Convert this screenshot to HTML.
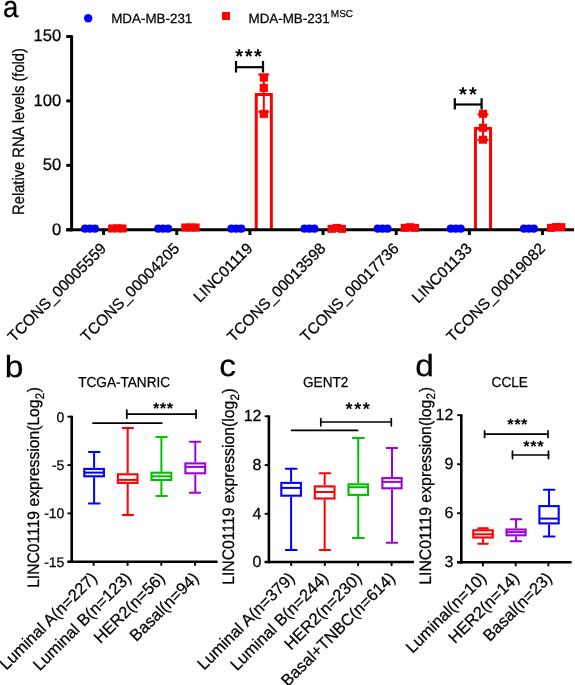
<!DOCTYPE html>
<html><head><meta charset="utf-8"><style>
html,body{margin:0;padding:0;background:#fff;width:575px;height:685px;overflow:hidden;}
svg{display:block;}
text{font-family:"Liberation Sans",sans-serif;fill:#000;stroke:#000;stroke-width:0.25px;}
body{-webkit-font-smoothing:antialiased;}
svg{will-change:transform;}
text{text-rendering:geometricPrecision;}
</style></head><body>
<svg width="575" height="685" viewBox="0 0 575 685">
<rect width="575" height="685" fill="#fff"/>
<text transform="translate(3.0 16.9) scale(0.92 1)" font-size="30" text-anchor="start" >a</text>
<text transform="translate(4.8 377.2) scale(1.1 1)" font-size="30.5" text-anchor="start" >b</text>
<text transform="translate(219.2 375.9) scale(1.1 1)" font-size="30.5" text-anchor="start" >c</text>
<text transform="translate(415.2 375.8) scale(1.1 1)" font-size="30.5" text-anchor="start" >d</text>
<circle cx="88.2" cy="18.3" r="4.2" fill="#0000ff"/>
<text x="111.2" y="23.3" font-size="13.4" text-anchor="start" >MDA-MB-231</text>
<rect x="222" y="12" width="8" height="8" fill="#ff0000"/>
<text x="248.5" y="23.3" font-size="13.4" text-anchor="start" >MDA-MB-231<tspan font-size="10" dx="1.2" dy="-6.2">MSC</tspan></text>
<path d="M256.25 229.8 V94.5 H271.35 V229.8" fill="none" stroke="#ff0000" stroke-width="3" stroke-linejoin="miter"/>
<line x1="263.8" y1="74.5" x2="263.8" y2="111.8" stroke="#ff0000" stroke-width="2" stroke-linecap="butt"/>
<line x1="258.3" y1="74.5" x2="269.3" y2="74.5" stroke="#ff0000" stroke-width="2" stroke-linecap="butt"/>
<line x1="258.3" y1="111.8" x2="269.3" y2="111.8" stroke="#ff0000" stroke-width="2" stroke-linecap="butt"/>
<path d="M475.45 229.8 V128.5 H490.55 V229.8" fill="none" stroke="#ff0000" stroke-width="3" stroke-linejoin="miter"/>
<line x1="483.0" y1="114.4" x2="483.0" y2="139.9" stroke="#ff0000" stroke-width="2" stroke-linecap="butt"/>
<line x1="477.5" y1="114.4" x2="488.5" y2="114.4" stroke="#ff0000" stroke-width="2" stroke-linecap="butt"/>
<line x1="477.5" y1="139.9" x2="488.5" y2="139.9" stroke="#ff0000" stroke-width="2" stroke-linecap="butt"/>
<line x1="71.6" y1="35.3" x2="71.6" y2="231.3" stroke="#000" stroke-width="3" stroke-linecap="butt"/>
<line x1="66.3" y1="229.8" x2="71.6" y2="229.8" stroke="#000" stroke-width="3" stroke-linecap="butt"/>
<text x="61.3" y="234.60000000000002" font-size="16.6" text-anchor="end" >0</text>
<line x1="66.3" y1="165.36666666666667" x2="71.6" y2="165.36666666666667" stroke="#000" stroke-width="3" stroke-linecap="butt"/>
<text x="61.3" y="170.16666666666669" font-size="16.6" text-anchor="end" >50</text>
<line x1="66.3" y1="100.93333333333334" x2="71.6" y2="100.93333333333334" stroke="#000" stroke-width="3" stroke-linecap="butt"/>
<text x="61.3" y="105.73333333333333" font-size="16.6" text-anchor="end" >100</text>
<line x1="66.3" y1="36.49999999999997" x2="71.6" y2="36.49999999999997" stroke="#000" stroke-width="3" stroke-linecap="butt"/>
<text x="61.3" y="41.29999999999997" font-size="16.6" text-anchor="end" >150</text>
<line x1="66.3" y1="229.8" x2="574" y2="229.8" stroke="#000" stroke-width="3" stroke-linecap="butt"/>
<line x1="103.6" y1="229.8" x2="103.6" y2="235" stroke="#000" stroke-width="3" stroke-linecap="butt"/>
<line x1="176.75" y1="229.8" x2="176.75" y2="235" stroke="#000" stroke-width="3" stroke-linecap="butt"/>
<line x1="249.9" y1="229.8" x2="249.9" y2="235" stroke="#000" stroke-width="3" stroke-linecap="butt"/>
<line x1="323.05" y1="229.8" x2="323.05" y2="235" stroke="#000" stroke-width="3" stroke-linecap="butt"/>
<line x1="396.20000000000005" y1="229.8" x2="396.20000000000005" y2="235" stroke="#000" stroke-width="3" stroke-linecap="butt"/>
<line x1="469.35" y1="229.8" x2="469.35" y2="235" stroke="#000" stroke-width="3" stroke-linecap="butt"/>
<line x1="542.5" y1="229.8" x2="542.5" y2="235" stroke="#000" stroke-width="3" stroke-linecap="butt"/>
<rect x="259.7" y="73.6" width="8.2" height="8" fill="#ff0000"/>
<rect x="259.7" y="83.9" width="8.2" height="8" fill="#ff0000"/>
<rect x="259.7" y="109.9" width="8.2" height="8" fill="#ff0000"/>
<rect x="478.9" y="109.8" width="8.2" height="8" fill="#ff0000"/>
<rect x="478.9" y="123.8" width="8.2" height="8" fill="#ff0000"/>
<rect x="478.9" y="135.7" width="8.2" height="8" fill="#ff0000"/>
<text transform="translate(24.1 131.5) rotate(-90) scale(0.892 1)" font-size="16.5" text-anchor="middle" >Relative RNA levels (fold)</text>
<text transform="translate(107.19999999999999 249.4) rotate(-45)" font-size="15.5" text-anchor="end" >TCONS_00005559</text>
<text transform="translate(180.35 249.4) rotate(-45)" font-size="15.5" text-anchor="end" >TCONS_00004205</text>
<text transform="translate(253.5 249.4) rotate(-45)" font-size="15.5" text-anchor="end" >LINC01119</text>
<text transform="translate(326.65000000000003 249.4) rotate(-45)" font-size="15.5" text-anchor="end" >TCONS_00013598</text>
<text transform="translate(399.80000000000007 249.4) rotate(-45)" font-size="15.5" text-anchor="end" >TCONS_00017736</text>
<text transform="translate(472.95000000000005 249.4) rotate(-45)" font-size="15.5" text-anchor="end" >LINC01133</text>
<text transform="translate(546.1 249.4) rotate(-45)" font-size="15.5" text-anchor="end" >TCONS_00019082</text>
<circle cx="85.1" cy="228.7" r="4.1" fill="#0000ff"/>
<circle cx="90.0" cy="228.7" r="4.1" fill="#0000ff"/>
<circle cx="94.9" cy="228.7" r="4.1" fill="#0000ff"/>
<circle cx="158.25" cy="228.7" r="4.1" fill="#0000ff"/>
<circle cx="163.15" cy="228.7" r="4.1" fill="#0000ff"/>
<circle cx="168.05" cy="228.7" r="4.1" fill="#0000ff"/>
<circle cx="231.4" cy="228.7" r="4.1" fill="#0000ff"/>
<circle cx="236.3" cy="228.7" r="4.1" fill="#0000ff"/>
<circle cx="241.20000000000002" cy="228.7" r="4.1" fill="#0000ff"/>
<circle cx="304.55" cy="228.7" r="4.1" fill="#0000ff"/>
<circle cx="309.45" cy="228.7" r="4.1" fill="#0000ff"/>
<circle cx="314.34999999999997" cy="228.7" r="4.1" fill="#0000ff"/>
<circle cx="377.70000000000005" cy="228.7" r="4.1" fill="#0000ff"/>
<circle cx="382.6" cy="228.7" r="4.1" fill="#0000ff"/>
<circle cx="387.5" cy="228.7" r="4.1" fill="#0000ff"/>
<circle cx="450.85" cy="228.7" r="4.1" fill="#0000ff"/>
<circle cx="455.75" cy="228.7" r="4.1" fill="#0000ff"/>
<circle cx="460.65" cy="228.7" r="4.1" fill="#0000ff"/>
<circle cx="524.0" cy="228.7" r="4.1" fill="#0000ff"/>
<circle cx="528.9" cy="228.7" r="4.1" fill="#0000ff"/>
<circle cx="533.8" cy="228.7" r="4.1" fill="#0000ff"/>
<rect x="108.1" y="224.5" width="8.2" height="8" fill="#ff0000"/>
<rect x="113.2" y="224.3" width="8.2" height="8" fill="#ff0000"/>
<rect x="118.3" y="224.5" width="8.2" height="8" fill="#ff0000"/>
<rect x="181.25" y="223.5" width="8.2" height="8" fill="#ff0000"/>
<rect x="186.35" y="223.4" width="8.2" height="8" fill="#ff0000"/>
<rect x="191.45" y="223.5" width="8.2" height="8" fill="#ff0000"/>
<rect x="327.55" y="224.85" width="8.2" height="8" fill="#ff0000"/>
<rect x="332.65" y="223.9" width="8.2" height="8" fill="#ff0000"/>
<rect x="337.75" y="224.85" width="8.2" height="8" fill="#ff0000"/>
<rect x="400.7" y="223.85" width="8.2" height="8" fill="#ff0000"/>
<rect x="405.8" y="223.2" width="8.2" height="8" fill="#ff0000"/>
<rect x="410.9" y="223.85" width="8.2" height="8" fill="#ff0000"/>
<rect x="547.0" y="223.85" width="8.2" height="8" fill="#ff0000"/>
<rect x="552.1" y="223.05" width="8.2" height="8" fill="#ff0000"/>
<rect x="557.2" y="223.15" width="8.2" height="8" fill="#ff0000"/>
<line x1="236" y1="67.2" x2="263" y2="67.2" stroke="#000" stroke-width="2.2" stroke-linecap="butt"/>
<line x1="236" y1="61" x2="236" y2="72.5" stroke="#000" stroke-width="2.2" stroke-linecap="butt"/>
<line x1="263" y1="61" x2="263" y2="72.5" stroke="#000" stroke-width="2.2" stroke-linecap="butt"/>
<text x="239.1" y="62.60" font-size="20" font-weight="bold" text-anchor="middle" style="stroke:none">*</text>
<text x="248.6" y="62.60" font-size="20" font-weight="bold" text-anchor="middle" style="stroke:none">*</text>
<text x="258.0" y="62.60" font-size="20" font-weight="bold" text-anchor="middle" style="stroke:none">*</text>
<line x1="454.8" y1="104.5" x2="481.6" y2="104.5" stroke="#000" stroke-width="2.2" stroke-linecap="butt"/>
<line x1="454.8" y1="98.2" x2="454.8" y2="109.5" stroke="#000" stroke-width="2.2" stroke-linecap="butt"/>
<line x1="481.6" y1="98.2" x2="481.6" y2="109.5" stroke="#000" stroke-width="2.2" stroke-linecap="butt"/>
<text x="462.9" y="101.30" font-size="20" font-weight="bold" text-anchor="middle" style="stroke:none">*</text>
<text x="472.8" y="101.30" font-size="20" font-weight="bold" text-anchor="middle" style="stroke:none">*</text>
<line x1="71.7" y1="415.7" x2="71.7" y2="563.0" stroke="#000" stroke-width="2.6" stroke-linecap="butt"/>
<line x1="67.5" y1="416.7" x2="71.7" y2="416.7" stroke="#000" stroke-width="1.9" stroke-linecap="butt"/>
<text x="64.4" y="421.7" font-size="14" text-anchor="end" >0</text>
<line x1="67.5" y1="465.1" x2="71.7" y2="465.1" stroke="#000" stroke-width="1.9" stroke-linecap="butt"/>
<text x="64.4" y="470.1" font-size="14" text-anchor="end" >-5</text>
<line x1="67.5" y1="513.4" x2="71.7" y2="513.4" stroke="#000" stroke-width="1.9" stroke-linecap="butt"/>
<text x="64.4" y="518.4" font-size="14" text-anchor="end" >-10</text>
<line x1="67.5" y1="561.8" x2="71.7" y2="561.8" stroke="#000" stroke-width="1.9" stroke-linecap="butt"/>
<text x="64.4" y="566.8" font-size="14" text-anchor="end" >-15</text>
<line x1="67.5" y1="561.8" x2="217.6" y2="561.8" stroke="#000" stroke-width="2.6" stroke-linecap="butt"/>
<line x1="93.6" y1="561.8" x2="93.6" y2="565.8" stroke="#000" stroke-width="1.9" stroke-linecap="butt"/>
<line x1="127.6" y1="561.8" x2="127.6" y2="565.8" stroke="#000" stroke-width="1.9" stroke-linecap="butt"/>
<line x1="161.3" y1="561.8" x2="161.3" y2="565.8" stroke="#000" stroke-width="1.9" stroke-linecap="butt"/>
<line x1="195.1" y1="561.8" x2="195.1" y2="565.8" stroke="#000" stroke-width="1.9" stroke-linecap="butt"/>
<line x1="94.1" y1="452.1" x2="94.1" y2="467.85" stroke="#0000ff" stroke-width="2.0" stroke-linecap="butt"/>
<line x1="94.1" y1="477.34999999999997" x2="94.1" y2="503.6" stroke="#0000ff" stroke-width="2.0" stroke-linecap="butt"/>
<line x1="88.89999999999999" y1="452.1" x2="99.60000000000001" y2="452.1" stroke="#0000ff" stroke-width="2.0" stroke-linecap="round"/>
<line x1="88.89999999999999" y1="503.6" x2="99.60000000000001" y2="503.6" stroke="#0000ff" stroke-width="2.0" stroke-linecap="round"/>
<rect x="84.3" y="468.90000000000003" width="19.59999999999999" height="7.39999999999999" fill="none" stroke="#0000ff" stroke-width="2.1"/>
<line x1="83.75" y1="472.6" x2="104.45" y2="472.6" stroke="#0000ff" stroke-width="2.0" stroke-linecap="butt"/>
<line x1="127.7" y1="428.0" x2="127.7" y2="473.25" stroke="#ff0000" stroke-width="2.0" stroke-linecap="butt"/>
<line x1="127.7" y1="483.95" x2="127.7" y2="515.0" stroke="#ff0000" stroke-width="2.0" stroke-linecap="butt"/>
<line x1="122.6" y1="428.0" x2="133.2" y2="428.0" stroke="#ff0000" stroke-width="2.0" stroke-linecap="round"/>
<line x1="122.6" y1="515.0" x2="133.2" y2="515.0" stroke="#ff0000" stroke-width="2.0" stroke-linecap="round"/>
<rect x="117.89999999999999" y="474.3" width="19.600000000000005" height="8.600000000000035" fill="none" stroke="#ff0000" stroke-width="2.1"/>
<line x1="117.35" y1="479.9" x2="138.05" y2="479.9" stroke="#ff0000" stroke-width="2.0" stroke-linecap="butt"/>
<line x1="161.39999999999998" y1="437.1" x2="161.39999999999998" y2="471.65000000000003" stroke="#00c000" stroke-width="2.0" stroke-linecap="butt"/>
<line x1="161.39999999999998" y1="481.04999999999995" x2="161.39999999999998" y2="496.0" stroke="#00c000" stroke-width="2.0" stroke-linecap="butt"/>
<line x1="156.3" y1="437.1" x2="166.89999999999998" y2="437.1" stroke="#00c000" stroke-width="2.0" stroke-linecap="round"/>
<line x1="156.3" y1="496.0" x2="166.89999999999998" y2="496.0" stroke="#00c000" stroke-width="2.0" stroke-linecap="round"/>
<rect x="151.5" y="472.70000000000005" width="19.799999999999994" height="7.299999999999967" fill="none" stroke="#00c000" stroke-width="2.1"/>
<line x1="150.95" y1="476.3" x2="171.85" y2="476.3" stroke="#00c000" stroke-width="2.0" stroke-linecap="butt"/>
<line x1="195.3" y1="441.7" x2="195.3" y2="462.35" stroke="#a000dc" stroke-width="2.0" stroke-linecap="butt"/>
<line x1="195.3" y1="474.34999999999997" x2="195.3" y2="492.7" stroke="#a000dc" stroke-width="2.0" stroke-linecap="butt"/>
<line x1="189.8" y1="441.7" x2="200.2" y2="441.7" stroke="#a000dc" stroke-width="2.0" stroke-linecap="round"/>
<line x1="189.8" y1="492.7" x2="200.2" y2="492.7" stroke="#a000dc" stroke-width="2.0" stroke-linecap="round"/>
<rect x="185.4" y="463.40000000000003" width="19.799999999999994" height="9.89999999999999" fill="none" stroke="#a000dc" stroke-width="2.1"/>
<line x1="184.85" y1="466.9" x2="205.75" y2="466.9" stroke="#a000dc" stroke-width="2.0" stroke-linecap="butt"/>
<text transform="translate(78.2 387) scale(0.945 1)" font-size="14.4" text-anchor="start" >TCGA-TANRIC</text>
<text transform="translate(39.2 487.4) rotate(-90) scale(0.944 1)" font-size="16.6" text-anchor="middle" >LINC01119 expression(Log<tspan font-size="12.3" dx="0.3" dy="4.8">2</tspan><tspan dx="0.6" dy="-4.8">)</tspan></text>
<text transform="translate(98.1 579) rotate(-45)" font-size="16.5" text-anchor="end" >Luminal A(n=227)</text>
<text transform="translate(132.1 579) rotate(-45)" font-size="16.5" text-anchor="end" >Luminal B(n=123)</text>
<text transform="translate(165.8 579) rotate(-45)" font-size="16.5" text-anchor="end" >HER2(n=56)</text>
<text transform="translate(199.6 579) rotate(-45)" font-size="16.5" text-anchor="end" >Basal(n=94)</text>
<line x1="93" y1="423.2" x2="161.8" y2="423.2" stroke="#000" stroke-width="1.7" stroke-linecap="round"/>
<line x1="126.8" y1="414.1" x2="196" y2="414.1" stroke="#000" stroke-width="1.7" stroke-linecap="round"/>
<line x1="126.8" y1="410.2" x2="126.8" y2="418.2" stroke="#000" stroke-width="1.7" stroke-linecap="round"/>
<line x1="196" y1="410.2" x2="196" y2="418.2" stroke="#000" stroke-width="1.7" stroke-linecap="round"/>
<text x="156.1" y="413.98" font-size="16.5" font-weight="bold" text-anchor="middle" style="stroke:none">*</text>
<text x="163.0" y="413.98" font-size="16.5" font-weight="bold" text-anchor="middle" style="stroke:none">*</text>
<text x="169.9" y="413.98" font-size="16.5" font-weight="bold" text-anchor="middle" style="stroke:none">*</text>
<line x1="268.9" y1="415.3" x2="268.9" y2="563.2" stroke="#000" stroke-width="2.6" stroke-linecap="butt"/>
<line x1="264.7" y1="416.3" x2="268.9" y2="416.3" stroke="#000" stroke-width="1.9" stroke-linecap="butt"/>
<text x="261.5" y="421.3" font-size="16" text-anchor="end" >12</text>
<line x1="264.7" y1="465.1" x2="268.9" y2="465.1" stroke="#000" stroke-width="1.9" stroke-linecap="butt"/>
<text x="261.5" y="470.1" font-size="16" text-anchor="end" >8</text>
<line x1="264.7" y1="513.8" x2="268.9" y2="513.8" stroke="#000" stroke-width="1.9" stroke-linecap="butt"/>
<text x="261.5" y="518.8" font-size="16" text-anchor="end" >4</text>
<line x1="264.7" y1="562.0" x2="268.9" y2="562.0" stroke="#000" stroke-width="1.9" stroke-linecap="butt"/>
<text x="261.5" y="567.0" font-size="16" text-anchor="end" >0</text>
<line x1="264.7" y1="562.0" x2="413.9" y2="562.0" stroke="#000" stroke-width="2.6" stroke-linecap="butt"/>
<line x1="291.2" y1="562.0" x2="291.2" y2="566.0" stroke="#000" stroke-width="1.9" stroke-linecap="butt"/>
<line x1="324.8" y1="562.0" x2="324.8" y2="566.0" stroke="#000" stroke-width="1.9" stroke-linecap="butt"/>
<line x1="358.1" y1="562.0" x2="358.1" y2="566.0" stroke="#000" stroke-width="1.9" stroke-linecap="butt"/>
<line x1="391.6" y1="562.0" x2="391.6" y2="566.0" stroke="#000" stroke-width="1.9" stroke-linecap="butt"/>
<line x1="291.1" y1="468.8" x2="291.1" y2="481.85" stroke="#0000ff" stroke-width="2.0" stroke-linecap="butt"/>
<line x1="291.1" y1="496.75" x2="291.1" y2="550.0" stroke="#0000ff" stroke-width="2.0" stroke-linecap="butt"/>
<line x1="285.90000000000003" y1="468.8" x2="296.59999999999997" y2="468.8" stroke="#0000ff" stroke-width="2.0" stroke-linecap="round"/>
<line x1="285.90000000000003" y1="550.0" x2="296.59999999999997" y2="550.0" stroke="#0000ff" stroke-width="2.0" stroke-linecap="round"/>
<rect x="281.3" y="482.90000000000003" width="19.600000000000033" height="12.800000000000024" fill="none" stroke="#0000ff" stroke-width="2.1"/>
<line x1="280.75" y1="487.9" x2="301.45" y2="487.9" stroke="#0000ff" stroke-width="2.0" stroke-linecap="butt"/>
<line x1="324.65" y1="473.2" x2="324.65" y2="485.35" stroke="#ff0000" stroke-width="2.0" stroke-linecap="butt"/>
<line x1="324.65" y1="499.54999999999995" x2="324.65" y2="550.0" stroke="#ff0000" stroke-width="2.0" stroke-linecap="butt"/>
<line x1="319.6" y1="473.2" x2="330.09999999999997" y2="473.2" stroke="#ff0000" stroke-width="2.0" stroke-linecap="round"/>
<line x1="319.6" y1="550.0" x2="330.09999999999997" y2="550.0" stroke="#ff0000" stroke-width="2.0" stroke-linecap="round"/>
<rect x="314.8" y="486.40000000000003" width="19.7" height="12.099999999999978" fill="none" stroke="#ff0000" stroke-width="2.1"/>
<line x1="314.25" y1="492.0" x2="335.04999999999995" y2="492.0" stroke="#ff0000" stroke-width="2.0" stroke-linecap="butt"/>
<line x1="358.25" y1="438.1" x2="358.25" y2="483.25" stroke="#00c000" stroke-width="2.0" stroke-linecap="butt"/>
<line x1="358.25" y1="495.95" x2="358.25" y2="537.9" stroke="#00c000" stroke-width="2.0" stroke-linecap="butt"/>
<line x1="352.90000000000003" y1="438.1" x2="363.8" y2="438.1" stroke="#00c000" stroke-width="2.0" stroke-linecap="round"/>
<line x1="352.90000000000003" y1="537.9" x2="363.8" y2="537.9" stroke="#00c000" stroke-width="2.0" stroke-linecap="round"/>
<rect x="348.50000000000006" y="484.3" width="19.499999999999954" height="10.600000000000035" fill="none" stroke="#00c000" stroke-width="2.1"/>
<line x1="347.95000000000005" y1="487.2" x2="368.54999999999995" y2="487.2" stroke="#00c000" stroke-width="2.0" stroke-linecap="butt"/>
<line x1="392.0" y1="447.9" x2="392.0" y2="477.05" stroke="#a000dc" stroke-width="2.0" stroke-linecap="butt"/>
<line x1="392.0" y1="489.34999999999997" x2="392.0" y2="542.8" stroke="#a000dc" stroke-width="2.0" stroke-linecap="butt"/>
<line x1="386.7" y1="447.9" x2="397.09999999999997" y2="447.9" stroke="#a000dc" stroke-width="2.0" stroke-linecap="round"/>
<line x1="386.7" y1="542.8" x2="397.09999999999997" y2="542.8" stroke="#a000dc" stroke-width="2.0" stroke-linecap="round"/>
<rect x="382.40000000000003" y="478.1" width="19.2" height="10.200000000000001" fill="none" stroke="#a000dc" stroke-width="2.1"/>
<line x1="381.85" y1="481.9" x2="402.15" y2="481.9" stroke="#a000dc" stroke-width="2.0" stroke-linecap="butt"/>
<text transform="translate(303 387) scale(0.945 1)" font-size="14.4" text-anchor="start" >GENT2</text>
<text transform="translate(234.0 486.5) rotate(-90) scale(0.948 1)" font-size="16.6" text-anchor="middle" >LINC01119 expression(log<tspan font-size="12.3" dx="0.3" dy="4.8">2</tspan><tspan dx="0.6" dy="-4.8">)</tspan></text>
<text transform="translate(295.7 579) rotate(-45)" font-size="16.5" text-anchor="end" >Luminal A(n=379)</text>
<text transform="translate(329.3 579) rotate(-45)" font-size="16.5" text-anchor="end" >Luminal B(n=244)</text>
<text transform="translate(362.6 579) rotate(-45)" font-size="16.5" text-anchor="end" >HER2(n=230)</text>
<text transform="translate(396.1 579) rotate(-45)" font-size="16.5" text-anchor="end" >Basal+TNBC(n=614)</text>
<line x1="291.5" y1="430.4" x2="357.6" y2="430.4" stroke="#000" stroke-width="1.7" stroke-linecap="round"/>
<line x1="320.8" y1="422" x2="391.3" y2="422" stroke="#000" stroke-width="1.7" stroke-linecap="round"/>
<line x1="320.8" y1="418.6" x2="320.8" y2="425.8" stroke="#000" stroke-width="1.7" stroke-linecap="round"/>
<line x1="391.3" y1="418.6" x2="391.3" y2="425.8" stroke="#000" stroke-width="1.7" stroke-linecap="round"/>
<text x="349.1" y="415.46" font-size="18" font-weight="bold" text-anchor="middle" style="stroke:none">*</text>
<text x="357.7" y="415.46" font-size="18" font-weight="bold" text-anchor="middle" style="stroke:none">*</text>
<text x="366.2" y="415.46" font-size="18" font-weight="bold" text-anchor="middle" style="stroke:none">*</text>
<line x1="461.3" y1="414.2" x2="461.3" y2="563.5" stroke="#000" stroke-width="2.6" stroke-linecap="butt"/>
<line x1="457.1" y1="415.2" x2="461.3" y2="415.2" stroke="#000" stroke-width="1.9" stroke-linecap="butt"/>
<text x="453.3" y="420.2" font-size="16" text-anchor="end" >12</text>
<line x1="457.1" y1="464.2" x2="461.3" y2="464.2" stroke="#000" stroke-width="1.9" stroke-linecap="butt"/>
<text x="453.3" y="469.2" font-size="16" text-anchor="end" >9</text>
<line x1="457.1" y1="513.2" x2="461.3" y2="513.2" stroke="#000" stroke-width="1.9" stroke-linecap="butt"/>
<text x="453.3" y="518.2" font-size="16" text-anchor="end" >6</text>
<line x1="457.1" y1="562.3" x2="461.3" y2="562.3" stroke="#000" stroke-width="1.9" stroke-linecap="butt"/>
<text x="453.3" y="567.3" font-size="16" text-anchor="end" >3</text>
<line x1="457.1" y1="562.3" x2="571.6" y2="562.3" stroke="#000" stroke-width="2.6" stroke-linecap="butt"/>
<line x1="482.9" y1="562.3" x2="482.9" y2="566.3" stroke="#000" stroke-width="1.9" stroke-linecap="butt"/>
<line x1="515.7" y1="562.3" x2="515.7" y2="566.3" stroke="#000" stroke-width="1.9" stroke-linecap="butt"/>
<line x1="548.4" y1="562.3" x2="548.4" y2="566.3" stroke="#000" stroke-width="1.9" stroke-linecap="butt"/>
<line x1="483.04999999999995" y1="528.3" x2="483.04999999999995" y2="529.25" stroke="#ff0000" stroke-width="2.0" stroke-linecap="butt"/>
<line x1="483.04999999999995" y1="538.55" x2="483.04999999999995" y2="543.8" stroke="#ff0000" stroke-width="2.0" stroke-linecap="butt"/>
<line x1="478.2" y1="528.3" x2="487.9" y2="528.3" stroke="#ff0000" stroke-width="2.0" stroke-linecap="round"/>
<line x1="478.2" y1="543.8" x2="487.9" y2="543.8" stroke="#ff0000" stroke-width="2.0" stroke-linecap="round"/>
<rect x="473.3" y="530.3" width="19.50000000000001" height="7.200000000000001" fill="none" stroke="#ff0000" stroke-width="2.1"/>
<line x1="472.75" y1="534.3" x2="493.34999999999997" y2="534.3" stroke="#ff0000" stroke-width="2.0" stroke-linecap="butt"/>
<line x1="516.05" y1="519.2" x2="516.05" y2="528.45" stroke="#a000dc" stroke-width="2.0" stroke-linecap="butt"/>
<line x1="516.05" y1="536.35" x2="516.05" y2="541.3" stroke="#a000dc" stroke-width="2.0" stroke-linecap="butt"/>
<line x1="510.8" y1="519.2" x2="521.2" y2="519.2" stroke="#a000dc" stroke-width="2.0" stroke-linecap="round"/>
<line x1="510.8" y1="541.3" x2="521.2" y2="541.3" stroke="#a000dc" stroke-width="2.0" stroke-linecap="round"/>
<rect x="506.50000000000006" y="529.5" width="19.099999999999977" height="5.800000000000022" fill="none" stroke="#a000dc" stroke-width="2.1"/>
<line x1="505.95000000000005" y1="532.1" x2="526.15" y2="532.1" stroke="#a000dc" stroke-width="2.0" stroke-linecap="butt"/>
<line x1="549.05" y1="489.7" x2="549.05" y2="505.05" stroke="#0000ff" stroke-width="2.0" stroke-linecap="butt"/>
<line x1="549.05" y1="524.4499999999999" x2="549.05" y2="536.4" stroke="#0000ff" stroke-width="2.0" stroke-linecap="butt"/>
<line x1="543.8" y1="489.7" x2="554.4000000000001" y2="489.7" stroke="#0000ff" stroke-width="2.0" stroke-linecap="round"/>
<line x1="543.8" y1="536.4" x2="554.4000000000001" y2="536.4" stroke="#0000ff" stroke-width="2.0" stroke-linecap="round"/>
<rect x="539.4" y="506.1" width="19.300000000000022" height="17.299999999999965" fill="none" stroke="#0000ff" stroke-width="2.1"/>
<line x1="538.85" y1="518.6" x2="559.25" y2="518.6" stroke="#0000ff" stroke-width="2.0" stroke-linecap="butt"/>
<text transform="translate(491.6 387) scale(0.945 1)" font-size="14.4" text-anchor="start" >CCLE</text>
<text transform="translate(430.5 485.9) rotate(-90) scale(0.954 1)" font-size="16.6" text-anchor="middle" >LINC01119 expression(log<tspan font-size="12.3" dx="0.3" dy="4.8">2</tspan><tspan dx="0.6" dy="-4.8">)</tspan></text>
<text transform="translate(487.4 579) rotate(-45)" font-size="16.5" text-anchor="end" >Luminal(n=10)</text>
<text transform="translate(520.2 579) rotate(-45)" font-size="16.5" text-anchor="end" >HER2(n=14)</text>
<text transform="translate(552.9 579) rotate(-45)" font-size="16.5" text-anchor="end" >Basal(n=23)</text>
<line x1="484.6" y1="434.1" x2="548" y2="434.1" stroke="#000" stroke-width="1.7" stroke-linecap="round"/>
<line x1="484.6" y1="430.8" x2="484.6" y2="437.4" stroke="#000" stroke-width="1.7" stroke-linecap="round"/>
<line x1="548" y1="430.8" x2="548" y2="437.4" stroke="#000" stroke-width="1.7" stroke-linecap="round"/>
<text x="510.4" y="430.38" font-size="16.5" font-weight="bold" text-anchor="middle" style="stroke:none">*</text>
<text x="517.4" y="430.38" font-size="16.5" font-weight="bold" text-anchor="middle" style="stroke:none">*</text>
<text x="524.3" y="430.38" font-size="16.5" font-weight="bold" text-anchor="middle" style="stroke:none">*</text>
<line x1="512.5" y1="455" x2="548.5" y2="455" stroke="#000" stroke-width="1.7" stroke-linecap="round"/>
<line x1="512.5" y1="451.2" x2="512.5" y2="458.6" stroke="#000" stroke-width="1.7" stroke-linecap="round"/>
<line x1="548.5" y1="451.2" x2="548.5" y2="458.6" stroke="#000" stroke-width="1.7" stroke-linecap="round"/>
<text x="526.5" y="452.08" font-size="16.5" font-weight="bold" text-anchor="middle" style="stroke:none">*</text>
<text x="533.5" y="452.08" font-size="16.5" font-weight="bold" text-anchor="middle" style="stroke:none">*</text>
<text x="540.4" y="452.08" font-size="16.5" font-weight="bold" text-anchor="middle" style="stroke:none">*</text>
</svg></body></html>
